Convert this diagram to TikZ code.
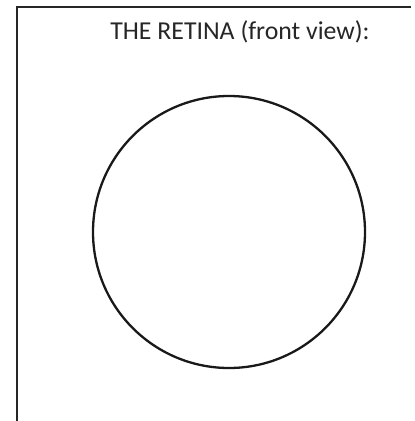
\documentclass[tikz,border=0pt]{standalone}
\usepackage{fontspec}
\setmainfont{Carlito}
\begin{document}
\begin{tikzpicture}[x=1pt,y=-1pt,
  frame/.style={draw=black!85,line width=2.3pt},
  retina/.style={draw=black!90,line width=2.3pt},
  title/.style={font=\fontsize{25.8}{30}\selectfont,text=black!85,anchor=base,inner sep=0pt}]
\useasboundingbox (0,0) rectangle (415,421);
\coordinate (tl) at (17,7);
\coordinate (tr) at (411,7);
\coordinate (bl) at (17,421);
\draw[frame] (bl) -- (tl) -- (tr);
\node[title] (t) at (240,39.5) {THE RETINA (front view):};
\node[retina,circle,minimum size=272pt,inner sep=0pt] (c) at (229,232) {};
\end{tikzpicture}
\end{document}
